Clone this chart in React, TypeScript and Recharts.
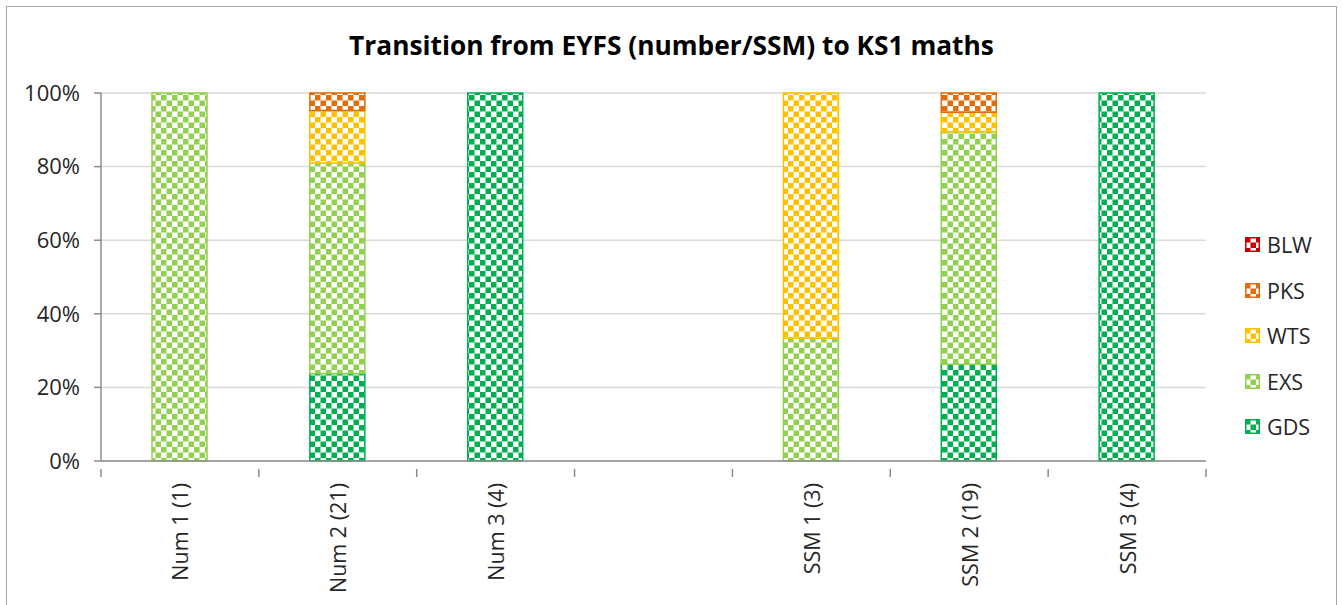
import { Bar, BarChart, CartesianGrid, Legend, XAxis, YAxis } from 'recharts';

const categories = ['Num 1 (1)', 'Num 2 (21)', 'Num 3 (4)', '', 'SSM 1 (3)', 'SSM 2 (19)', 'SSM 3 (4)'];
// pupil counts per attainment band (bar height = share of the category total)
const gds = [0, 5, 4, 0, 0, 5, 4];
const exs = [1, 12, 0, 0, 1, 12, 0];
const wts = [0, 3, 0, 0, 2, 1, 0];
const pks = [0, 1, 0, 0, 0, 1, 0];
const blw = [0, 0, 0, 0, 0, 0, 0];
const yTicks = [0, 0.2, 0.4, 0.6, 0.8, 1];

const SERIES = [
  { key: 'GDS', color: '#00b050' },
  { key: 'EXS', color: '#92d050' },
  { key: 'WTS', color: '#ffc000' },
  { key: 'PKS', color: '#e46c0a' },
  { key: 'BLW', color: '#cc0000' },
];

const data = categories.map((name, i) => ({
  name,
  GDS: gds[i],
  EXS: exs[i],
  WTS: wts[i],
  PKS: pks[i],
  BLW: blw[i],
}));

const FONT = '"Open Sans", "Noto Sans", sans-serif';
const TEXT = '#262626';
const AXIS = '#8c8c8c';

interface TickProps {
  x?: number;
  y?: number;
  index?: number;
  visibleTicksCount?: number;
  payload?: { value: string; offset?: number };
}

// label rotated bottom-to-top, plus Excel-style tick marks between categories
function CategoryTick({ x, y, index, visibleTicksCount, payload }: TickProps) {
  const tx = x ?? 0;
  const y0 = y ?? 0;
  const ty = y0 + 14;
  const half = payload?.offset ?? 0;
  const isLast = index === (visibleTicksCount ?? 0) - 1;
  return (
    <g>
      <line x1={tx - half} x2={tx - half} y1={y0} y2={y0 + 8} stroke={AXIS} strokeWidth={1.5} />
      {isLast && <line x1={tx + half} x2={tx + half} y1={y0} y2={y0 + 8} stroke={AXIS} strokeWidth={1.5} />}
      <text
        x={tx} y={ty}
        transform={`rotate(-90, ${tx}, ${ty})`}
        textAnchor="end" dominantBaseline="central"
        fontFamily={FONT} fontSize={21.5} fill={TEXT}
      >
        {payload?.value}
      </text>
    </g>
  );
}

function LegendContent() {
  const items = [...SERIES].reverse();
  return (
    <div style={{ fontFamily: FONT, fontSize: 21.5, color: TEXT }}>
      {items.map((s) => (
        <div key={s.key} style={{ display: 'flex', alignItems: 'center', height: 45.5 }}>
          <svg width={15} height={15} style={{ marginRight: 7 }}>
            <rect x={0.75} y={0.75} width={13.5} height={13.5} fill={`url(#pat-${s.key})`} stroke={s.color} strokeWidth={1.5} />
          </svg>
          <span>{s.key}</span>
        </div>
      ))}
    </div>
  );
}

export default function App() {
  return (
    <div style={{ position: 'fixed', left: 0, top: 0, width: 1343, height: 605, overflow: 'hidden', background: '#fff' }}>
      <svg width={0} height={0} style={{ position: 'absolute' }}>
        <defs>
          {SERIES.map((s) => (
            <pattern key={s.key} id={`pat-${s.key}`} width={11} height={11} patternUnits="userSpaceOnUse">
              <rect x={0} y={0} width={11} height={11} fill="#fff" />
              <rect x={0} y={0} width={5.5} height={5.5} fill={s.color} />
              <rect x={5.5} y={5.5} width={5.5} height={5.5} fill={s.color} />
            </pattern>
          ))}
        </defs>
      </svg>
      <div style={{
        position: 'absolute', left: 6, top: 6, width: 1331, height: 620,
        border: '1.5px solid #a6a6a6', boxSizing: 'border-box',
      }} />
      <div style={{
        position: 'absolute', left: 0, top: 28, width: 1343, textAlign: 'center',
        fontFamily: FONT, fontWeight: 700, fontSize: 26.3, lineHeight: '34px', color: '#000',
      }}>
        Transition from EYFS (number/SSM) to KS1 maths
      </div>
      <div style={{ position: 'absolute', left: 7, top: 7 }}>
        <BarChart
          width={1329} height={598} data={data}
          stackOffset="expand" barSize={55}
          margin={{ top: 86, right: 130, left: 0, bottom: 7 }}
        >
          <CartesianGrid vertical={false} stroke="#d9d9d9" strokeWidth={1.5} />
          <XAxis
            dataKey="name" interval={0}
            tick={<CategoryTick />} tickLine={false}
            axisLine={{ stroke: AXIS, strokeWidth: 1.5 }} height={137}
          />
          <YAxis
            domain={[0, 1]} ticks={yTicks} width={94}
            tickFormatter={(v: number) => `${Math.round(v * 100)}%`}
            tick={{ fontFamily: FONT, fontSize: 22, fill: TEXT }}
            axisLine={{ stroke: AXIS, strokeWidth: 1.5 }}
            tickLine={{ stroke: AXIS, strokeWidth: 1.5 }}
            tickSize={7} tickMargin={14}
          />
          <Legend
            layout="vertical" align="center" verticalAlign="middle" content={<LegendContent />}
            wrapperStyle={{ position: 'absolute', left: 1238, top: 215, width: 90 }}
          />
          {SERIES.map((s) => (
            <Bar
              key={s.key} dataKey={s.key} stackId="a"
              fill={`url(#pat-${s.key})`} stroke={s.color} strokeWidth={1.5}
              isAnimationActive={false}
            />
          ))}
        </BarChart>
      </div>
    </div>
  );
}
